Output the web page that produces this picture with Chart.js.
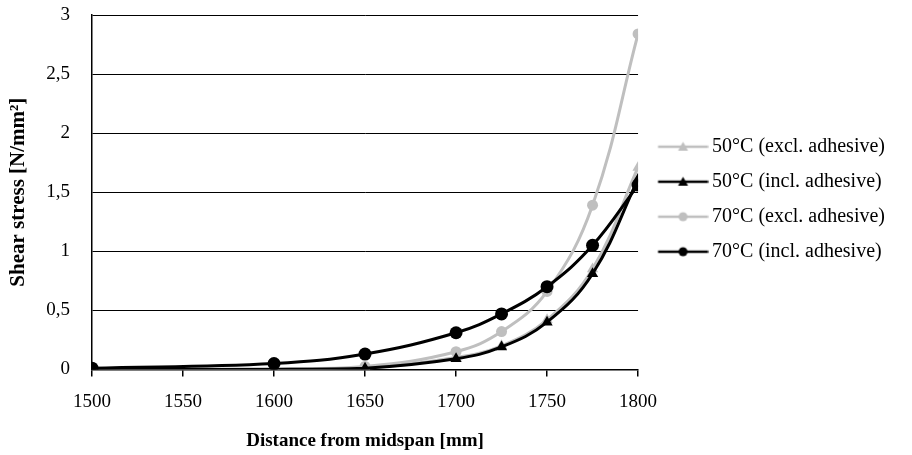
<!DOCTYPE html>
<html>
<head>
<meta charset="utf-8">
<script src="https://cdn.jsdelivr.net/npm/chart.js@4"></script>
<style>
  html, body { margin: 0; padding: 0; background: #fff; }
  #wrap { width: 912px; height: 455px; }
</style>
</head>
<body>
<div id="wrap"><canvas id="shear-chart"></canvas></div>
<script>
const distances = [1500, 1600, 1650, 1700, 1725, 1750, 1775, 1800];
const s50excl = [0, 0, 0.01, 0.1, 0.2, 0.42, 0.85, 1.71];
const s50incl = [0, 0, 0.01, 0.09, 0.19, 0.4, 0.81, 1.61];
const s70excl = [0, 0.005, 0.025, 0.15, 0.32, 0.66, 1.39, 2.84];
const s70incl = [0.01, 0.05, 0.13, 0.31, 0.47, 0.7, 1.05, 1.56];
const seriesNames = [
  "50°C (excl. adhesive)",
  "50°C (incl. adhesive)",
  "70°C (excl. adhesive)",
  "70°C (incl. adhesive)",
];
const xTicks = [1500, 1550, 1600, 1650, 1700, 1750, 1800];

const GREY = "#bfbfbf";
const BLACK = "#000000";
const serif = "'Liberation Serif', 'Times New Roman', serif";

function toPoints(values) {
  return values.map((v, i) => ({ x: distances[i], y: v }));
}

// legend sample: line with the marker in the middle (padded on the left so it
// sits where Excel puts it)
function legendSample(color, style) {
  const c = document.createElement("canvas");
  c.width = 62;
  c.height = 14;
  const g = c.getContext("2d");
  g.strokeStyle = color;
  g.lineWidth = 2.5;
  g.beginPath();
  g.moveTo(11.5, 7);
  g.lineTo(61.5, 7);
  g.stroke();
  g.fillStyle = color;
  g.beginPath();
  if (style === "triangle") {
    g.moveTo(36.5, 2);
    g.lineTo(41.5, 11);
    g.lineTo(31.5, 11);
    g.closePath();
  } else {
    g.arc(36.5, 7, 4.5, 0, Math.PI * 2);
  }
  g.fill();
  return c;
}

function series(label, values, color, style, radius, order) {
  return {
    label,
    data: toPoints(values),
    borderColor: color,
    backgroundColor: color,
    borderWidth: 3,
    pointStyle: style,
    pointRadius: radius,
    pointBorderWidth: 0,
    pointBackgroundColor: color,
    tension: 0.4,
    order,
    legendImg: legendSample(color, style),
  };
}

const ctx = document.getElementById("shear-chart").getContext("2d");
new Chart(ctx, {
  type: "line",
  data: {
    datasets: [
      series(seriesNames[0], s50excl, GREY, "triangle", 6.5, 3),
      series(seriesNames[1], s50incl, BLACK, "triangle", 6.5, 1),
      series(seriesNames[2], s70excl, GREY, "circle", 5.5, 2),
      series(seriesNames[3], s70incl, BLACK, "circle", 6.5, 0),
    ],
  },
  options: {
    responsive: true,
    maintainAspectRatio: false,
    animation: false,
    layout: { padding: { left: 0, right: 17, top: 15, bottom: 3 } },
    plugins: {
      tooltip: { enabled: false },
      legend: {
        position: "right",
        fullSize: false,
        maxWidth: 320,
        title: {
          display: true,
          text: " ",
          font: { size: 1 },
          padding: { top: 6.4, bottom: 6.4 },
        },
        labels: {
          color: "#000",
          font: { family: serif, size: 20 },
          usePointStyle: true,
          pointStyleWidth: 49,
          padding: 15,
          sort: (a, b) => a.datasetIndex - b.datasetIndex,
          generateLabels(chart) {
            const items = Chart.defaults.plugins.legend.labels.generateLabels(chart);
            items.forEach((it) => {
              it.pointStyle = chart.data.datasets[it.datasetIndex].legendImg;
            });
            return items;
          },
        },
      },
    },
    scales: {
      x: {
        type: "linear",
        min: 1500,
        max: 1800,
        afterBuildTicks(axis) {
          axis.ticks = xTicks.map((v) => ({ value: v }));
        },
        border: { color: "#000", width: 1.5 },
        grid: {
          drawOnChartArea: false,
          drawTicks: true,
          tickLength: 7,
          color: "#000",
          lineWidth: 1.5,
        },
        ticks: {
          color: "#000",
          font: { family: serif, size: 19 },
          padding: 14,
          maxRotation: 0,
          callback: (v) => String(v),
        },
        title: {
          display: true,
          text: "Distance from midspan [mm]",
          color: "#000",
          font: { family: serif, size: 19, weight: "bold" },
          padding: { top: 2, bottom: 0 },
        },
      },
      y: {
        min: 0,
        max: 3,
        afterFit(scale) {
          scale.width = 92;
          scale.paddingTop = 0;
        },
        border: { color: "#000", width: 1.5 },
        grid: { color: "#000", lineWidth: 1, drawTicks: false },
        ticks: {
          stepSize: 0.5,
          color: "#000",
          font: { family: serif, size: 19 },
          padding: 22,
          callback: (v) => String(v).replace(".", ","),
        },
        title: {
          display: true,
          text: "Shear stress [N/mm²]",
          color: "#000",
          font: { family: serif, size: 21, weight: "bold" },
          padding: { top: 6, bottom: 0 },
        },
      },
    },
  },
});
</script>
</body>
</html>
